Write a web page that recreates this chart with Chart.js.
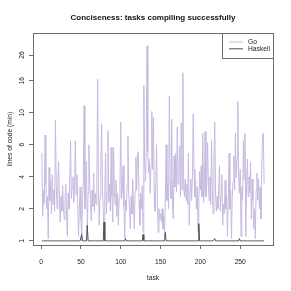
<!DOCTYPE html>
<html>
<head>
<meta charset="utf-8">
<script src="https://cdn.jsdelivr.net/npm/chart.js@4.4.0/dist/chart.umd.min.js"></script>
<style>
  html, body { margin: 0; padding: 0; background: #fff; }
  #chart { display: block; }
</style>
</head>
<body>
<canvas id="chart" width="291" height="291"></canvas>
<script>
// lines of code relative to the shortest solution, one value per task (1..280)
const goLoc = [
  5.4, 1.7, 3.0, 2.2, 7.0, 3.5, 2.0, 2.6, 1.05, 4.5, 2.4, 3.6, 1.8, 4.1, 2.2, 3.0, 1.9, 8.9, 3.4, 2.0,
  3.6, 4.85, 2.4, 1.5, 2.6, 1.9, 3.3, 2.1, 1.6, 2.4, 3.4, 1.7, 1.1, 2.8, 2.0, 3.9, 6.4, 2.5, 3.2, 4.0,
  2.3, 3.0, 6.4, 2.7, 4.1, 2.2, 1.1, 1.9, 3.2, 1.6, 1.0, 2.5, 3.6, 11.1, 2.0, 3.1, 4.85, 1.2, 2.8, 6.0,
  3.5, 2.4, 1.55, 3.0, 2.1, 4.2, 1.85, 2.8, 2.2, 3.6, 16.5, 3.0, 1.4, 2.6, 4.5, 8.4, 3.2, 2.0, 1.05, 3.0,
  5.4, 1.8, 2.9, 7.5, 2.3, 3.4, 1.9, 5.8, 2.6, 1.5, 5.8, 2.8, 2.2, 3.7, 1.7, 2.8, 1.4, 2.5, 3.2, 8.6,
  2.5, 3.0, 4.6, 2.1, 1.05, 2.4, 1.9, 3.4, 6.9, 2.8, 2.0, 1.3, 2.6, 1.8, 3.8, 2.2, 1.3, 2.9, 5.1, 3.0,
  5.3, 5.5, 2.4, 1.4, 2.8, 2.0, 3.3, 1.2, 15.0, 4.9, 3.6, 5.6, 31, 5.5, 4.2, 5.0, 2.8, 4.6, 10.2, 4.4,
  9.3, 2.8, 1.9, 3.4, 6.0, 2.2, 1.2, 2.0, 1.6, 1.8, 1.5, 2.0, 1.3, 1.7, 1.1, 2.6, 6.0, 2.4, 3.5, 2.0,
  12.8, 3.6, 2.5, 9.0, 2.2, 1.6, 5.2, 3.2, 5.4, 2.9, 8.0, 3.4, 4.2, 5.9, 2.6, 8.5, 3.0, 18.6, 3.6, 2.6,
  3.8, 2.4, 3.4, 2.2, 5.4, 1.4, 2.9, 3.8, 2.4, 4.0, 9.8, 4.4, 2.6, 3.7, 2.0, 3.2, 1.2, 2.4, 4.3, 3.0,
  4.6, 2.6, 7.2, 2.3, 3.1, 7.4, 2.6, 3.4, 6.2, 3.6, 2.4, 4.0, 2.2, 6.5, 3.0, 1.8, 4.6, 8.6, 3.0, 1.9,
  2.6, 2.0, 3.2, 4.6, 1.9, 2.8, 4.1, 1.4, 2.2, 1.8, 3.7, 2.0, 2.6, 1.1, 2.4, 5.4, 2.0, 3.0, 1.05, 2.6,
  3.6, 5.2, 3.0, 7.2, 3.9, 5.0, 11.8, 4.0, 2.8, 4.4, 1.1, 3.2, 2.4, 6.4, 3.8, 7.2, 1.1, 3.4, 5.0, 2.6,
  4.0, 2.8, 4.8, 1.6, 3.8, 2.4, 1.3, 2.0, 1.05, 3.0, 4.2, 2.4, 3.8, 2.0, 3.2, 1.6, 4.4, 7.0, 7.2, 3.4
];
const haskellLoc = [
  1, 1, 1, 1, 1, 1, 1, 1, 1, 1, 1, 1, 1, 1, 1, 1, 1, 1, 1, 1,
  1, 1, 1, 1, 1, 1, 1, 1, 1, 1, 1, 1, 1, 1, 1, 1, 1, 1, 1, 1,
  1, 1, 1, 1, 1, 1, 1, 1, 1, 1, 1.15, 1, 1, 1, 1, 1, 1, 1.4, 1, 1,
  1, 1, 1, 1, 1, 1, 1, 1, 1, 1, 1, 1, 1, 1, 1, 1, 1, 1, 1.5, 1,
  1, 1, 1, 1, 1, 1, 1, 1, 1, 1, 1, 1, 1, 1, 1, 1, 1, 1, 1, 1,
  1, 1, 1, 1, 1, 1.05, 1, 1, 1, 1, 1, 1, 1, 1, 1, 1, 1, 1, 1, 1,
  1, 1, 1, 1, 1, 1, 1, 1.15, 1, 1, 1, 1, 1, 1, 1, 1, 1, 1, 1, 1,
  1, 1, 1, 1, 1, 1, 1, 1, 1, 1, 1, 1, 1, 1, 1, 1.2, 1, 1, 1, 1,
  1, 1, 1, 1, 1, 1, 1, 1, 1, 1, 1, 1, 1, 1, 1, 1, 1, 1, 1, 1,
  1, 1, 1, 1, 1, 1, 1, 1, 1, 1, 1, 1, 1, 1, 1, 1, 1, 1.45, 1, 1,
  1, 1, 1, 1, 1, 1, 1, 1, 1, 1, 1, 1, 1, 1, 1, 1, 1, 1.05, 1, 1,
  1, 1, 1, 1, 1, 1, 1, 1, 1, 1, 1, 1, 1, 1, 1, 1, 1, 1, 1, 1,
  1, 1, 1, 1, 1, 1, 1, 1, 1.05, 1, 1, 1, 1, 1, 1, 1, 1, 1, 1, 1,
  1, 1, 1, 1, 1, 1, 1, 1, 1, 1, 1, 1, 1, 1, 1, 1, 1, 1, 1, 1
];
const seriesNames = ['Go', 'Haskell'];
const xTicks = [0, 50, 100, 150, 200, 250];
const yTicks = [1, 2, 4, 6, 10, 16, 26];

const FONT = '"Liberation Sans", Arial, sans-serif';
const TEXT = '#222';
const AXIS = '#6e6e6e';

// the y axis of the original puts its labels (nearly) evenly apart,
// log-interpolated in between, so map values onto that step scale
const yStep = [0, 1, 2, 3, 4, 5, 5.8];
function toStep(v) {
    let i = 0;
    while (i < yTicks.length - 2 && v > yTicks[i + 1]) i++;
    return yStep[i] + (yStep[i + 1] - yStep[i]) * Math.log(v / yTicks[i]) / Math.log(yTicks[i + 1] / yTicks[i]);
}

class StepLogScale extends Chart.LinearScale {
    buildTicks() {
        return yTicks.map(v => ({ value: v }));
    }
    getPixelForValue(v) {
        const a = toStep(this.min), b = toStep(this.max);
        return this.getPixelForDecimal((toStep(v) - a) / (b - a));
    }
}
StepLogScale.id = 'steplog';
StepLogScale.defaults = Chart.LinearScale.defaults;
Chart.register(StepLogScale);

const toPoints = arr => arr.map((v, i) => ({ x: i + 1, y: v }));

// box round the plot, rotated y labels and the legend
const frame = {
    id: 'frame',
    afterLayout(chart) {
        // centre the title over the plot area, not the canvas
        if (chart.titleBlock) {
            chart.titleBlock.left = chart.chartArea.left;
            chart.titleBlock.right = chart.chartArea.right;
        }
    },
    afterDraw(chart) {
        const { ctx, chartArea: a, scales: { y } } = chart;
        ctx.save();
        ctx.strokeStyle = AXIS;
        ctx.lineWidth = 1;
        ctx.strokeRect(Math.round(a.left) + 0.5, Math.round(a.top) + 0.5,
            Math.round(a.right - a.left), Math.round(a.bottom - a.top));

        ctx.fillStyle = TEXT;
        ctx.font = '6.7px ' + FONT;
        ctx.textAlign = 'center';
        ctx.textBaseline = 'middle';
        yTicks.forEach(v => {
            ctx.save();
            ctx.translate(a.left - 11, y.getPixelForValue(v));
            ctx.rotate(-Math.PI / 2);
            ctx.fillText(String(v), 0, 0);
            ctx.restore();
        });

        // legend, top right inside the plot
        const lx = Math.round(a.right - 51) + 0.5, ly = Math.round(a.top) + 0.5;
        ctx.strokeStyle = AXIS;
        ctx.strokeRect(lx, ly, Math.round(a.right) - Math.round(a.right - 51), 25);
        ctx.textAlign = 'left';
        chart.data.datasets.forEach((ds, i) => {
            const ry = a.top + 9 + i * 6.8;
            ctx.strokeStyle = ds.borderColor;
            ctx.lineWidth = 1;
            ctx.beginPath();
            ctx.moveTo(a.right - 44, ry);
            ctx.lineTo(a.right - 30, ry);
            ctx.stroke();
            ctx.fillStyle = TEXT;
            ctx.fillText(ds.label, a.right - 25, ry);
        });
        ctx.restore();
    }
};

const ctx = document.getElementById('chart').getContext('2d');
new Chart(ctx, {
    type: 'line',
    data: {
        datasets: [
            { label: seriesNames[0], data: toPoints(goLoc), borderColor: 'rgb(198,186,224)', borderWidth: 1, pointRadius: 0, tension: 0, order: 1 },
            { label: seriesNames[1], data: toPoints(haskellLoc), borderColor: '#505050', borderWidth: 1, pointRadius: 0, tension: 0, order: 0 }
        ]
    },
    options: {
        responsive: false,
        animation: false,
        devicePixelRatio: 1,
        layout: { padding: { left: 0, right: 18, top: 0, bottom: 0 } },
        plugins: {
            legend: { display: false },
            tooltip: { enabled: false },
            title: {
                display: true,
                text: 'Conciseness: tasks compiling successfully',
                color: '#111',
                font: { family: FONT, size: 8, weight: 'bold', lineHeight: 1.2 },
                padding: { top: 13.2, bottom: 10.2 }
            }
        },
        scales: {
            x: {
                type: 'linear',
                min: -10.16,
                max: 291.16,
                afterBuildTicks: s => { s.ticks = xTicks.map(v => ({ value: v })); },
                afterFit: s => { s.height = 46; },
                grid: { display: true, drawOnChartArea: false, drawTicks: true, tickLength: 4, color: AXIS },
                border: { display: false },
                ticks: { color: TEXT, font: { family: FONT, size: 6.7 }, padding: 9, maxRotation: 0, autoSkip: false },
                title: { display: true, text: 'task', color: TEXT, font: { family: FONT, size: 6.7 }, padding: { top: 0, bottom: 9 } }
            },
            y: {
                type: 'steplog',
                min: 0.914,
                max: 39.5,
                afterFit: s => { s.width = 33; },
                grid: { display: true, drawOnChartArea: false, drawTicks: true, tickLength: 4, color: AXIS },
                border: { display: false },
                ticks: { display: false, callback: v => String(v) },
                title: { display: true, text: 'lines of code (min)', color: TEXT, font: { family: FONT, size: 6.7 }, padding: { top: 6, bottom: 0 } }
            }
        }
    },
    plugins: [frame]
});
</script>
</body>
</html>
